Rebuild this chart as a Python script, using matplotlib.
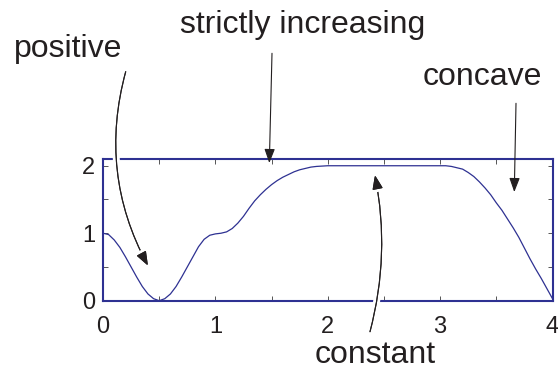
import matplotlib
matplotlib.use("Agg")
import matplotlib.pyplot as plt
import matplotlib.patheffects as pe

# ---- data ----
x_vals = [0.00, 0.05, 0.10, 0.15, 0.20, 0.25, 0.30, 0.35, 0.40, 0.45,
          0.50, 0.55, 0.60, 0.65, 0.70, 0.75, 0.80, 0.85, 0.90, 0.95,
          1.00, 1.05, 1.10, 1.15, 1.20, 1.25, 1.30, 1.35, 1.40, 1.45,
          1.50, 1.55, 1.60, 1.65, 1.70, 1.75, 1.80, 1.85, 1.90, 2.00,
          2.50, 3.00, 3.05, 3.10, 3.15, 3.20, 3.25, 3.30, 3.35, 3.40,
          3.45, 3.50, 3.55, 3.60, 3.65, 3.70, 3.75, 3.80, 3.85, 3.90,
          3.95, 4.00]
y_vals = [1.00, 0.98, 0.90, 0.79, 0.65, 0.50, 0.35, 0.21, 0.10, 0.03,
          0.00, 0.03, 0.10, 0.21, 0.35, 0.50, 0.65, 0.80, 0.91, 0.97,
          0.99, 1.00, 1.02, 1.07, 1.15, 1.25, 1.37, 1.48, 1.57, 1.65,
          1.72, 1.78, 1.83, 1.87, 1.91, 1.94, 1.96, 1.98, 1.99, 2.00,
          2.00, 2.00, 2.00, 1.99, 1.97, 1.95, 1.90, 1.84, 1.76, 1.67,
          1.57, 1.45, 1.34, 1.21, 1.08, 0.94, 0.78, 0.62, 0.47, 0.33,
          0.18, 0.03]

x_ticks = [0.0, 0.5, 1.0, 1.5, 2.0, 2.5, 3.0, 3.5, 4.0]
x_ticklabels = ["0", "", "1", "", "2", "", "3", "", "4"]
y_ticks = [0.0, 0.5, 1.0, 1.5, 2.0]
y_ticklabels = ["0", "", "1", "", "2"]

labels = ["positive", "strictly increasing", "concave", "constant"]
# arrow targets in data coordinates
label_targets = [(0.40, 0.52), (1.48, 2.04), (3.66, 1.61), (2.42, 1.86)]

# ---- styling ----
NAVY = "#2E3192"
INK = "#231F20"
plt.rcParams["font.family"] = ["Liberation Sans", "DejaVu Sans"]

fig = plt.figure(figsize=(5.58, 3.70), dpi=100)
ax = fig.add_axes([103 / 558, 69.3 / 370, 449.5 / 558, 141.7 / 370])

ax.plot(x_vals, y_vals, color=NAVY, lw=0.9, zorder=2)
ax.set_xlim(0, 4)
ax.set_ylim(0, 2.1)

ax.set_xticks(x_ticks)
ax.set_xticklabels(x_ticklabels)
ax.set_yticks(y_ticks)
ax.set_yticklabels(y_ticklabels)
ax.tick_params(axis="both", direction="in", length=3.6, width=0.7,
               color="#555555", labelsize=17, labelcolor=INK,
               top=True, right=True)
ax.tick_params(axis="x", pad=11)
ax.tick_params(axis="y", pad=5.5)
for s in ax.spines.values():
    s.set_color(NAVY)
    s.set_linewidth(1.5)

# ---- text labels (figure pixels, origin bottom-left) ----
text_pos = [(68, 370 - 57), (303, 370 - 33), (482, 370 - 85), (375, 370 - 363)]
for lab, (tx, ty) in zip(labels, text_pos):
    fig.text(tx, ty, lab, transform=None, ha="center", va="baseline",
             fontsize=23, color=INK)

# arrow start points (figure pixels) and curvature
arrow_starts = [(125.7, 370 - 71.7), (272, 370 - 53.3), (516, 370 - 103.3), (370, 370 - 331.7)]
arrow_rads = [0.2, 0.0, 0.0, 0.115]
arrow_halo = [True, False, False, True]

for tgt, st, rad, halo in zip(label_targets, arrow_starts, arrow_rads, arrow_halo):
    ann = ax.annotate("", xy=tgt, xycoords="data",
                      xytext=st, textcoords="figure pixels",
                      annotation_clip=False,
                      arrowprops=dict(arrowstyle="-|>,head_length=0.86,head_width=0.32",
                                      mutation_scale=10, color=INK, lw=0.8,
                                      shrinkA=0, shrinkB=0,
                                      connectionstyle=f"arc3,rad={rad}"))
    ann.set_zorder(5)
    if halo:
        ann.arrow_patch.set_path_effects(
            [pe.withStroke(linewidth=5, foreground="white"), pe.Normal()])

fig.savefig("out.png", dpi=100)
